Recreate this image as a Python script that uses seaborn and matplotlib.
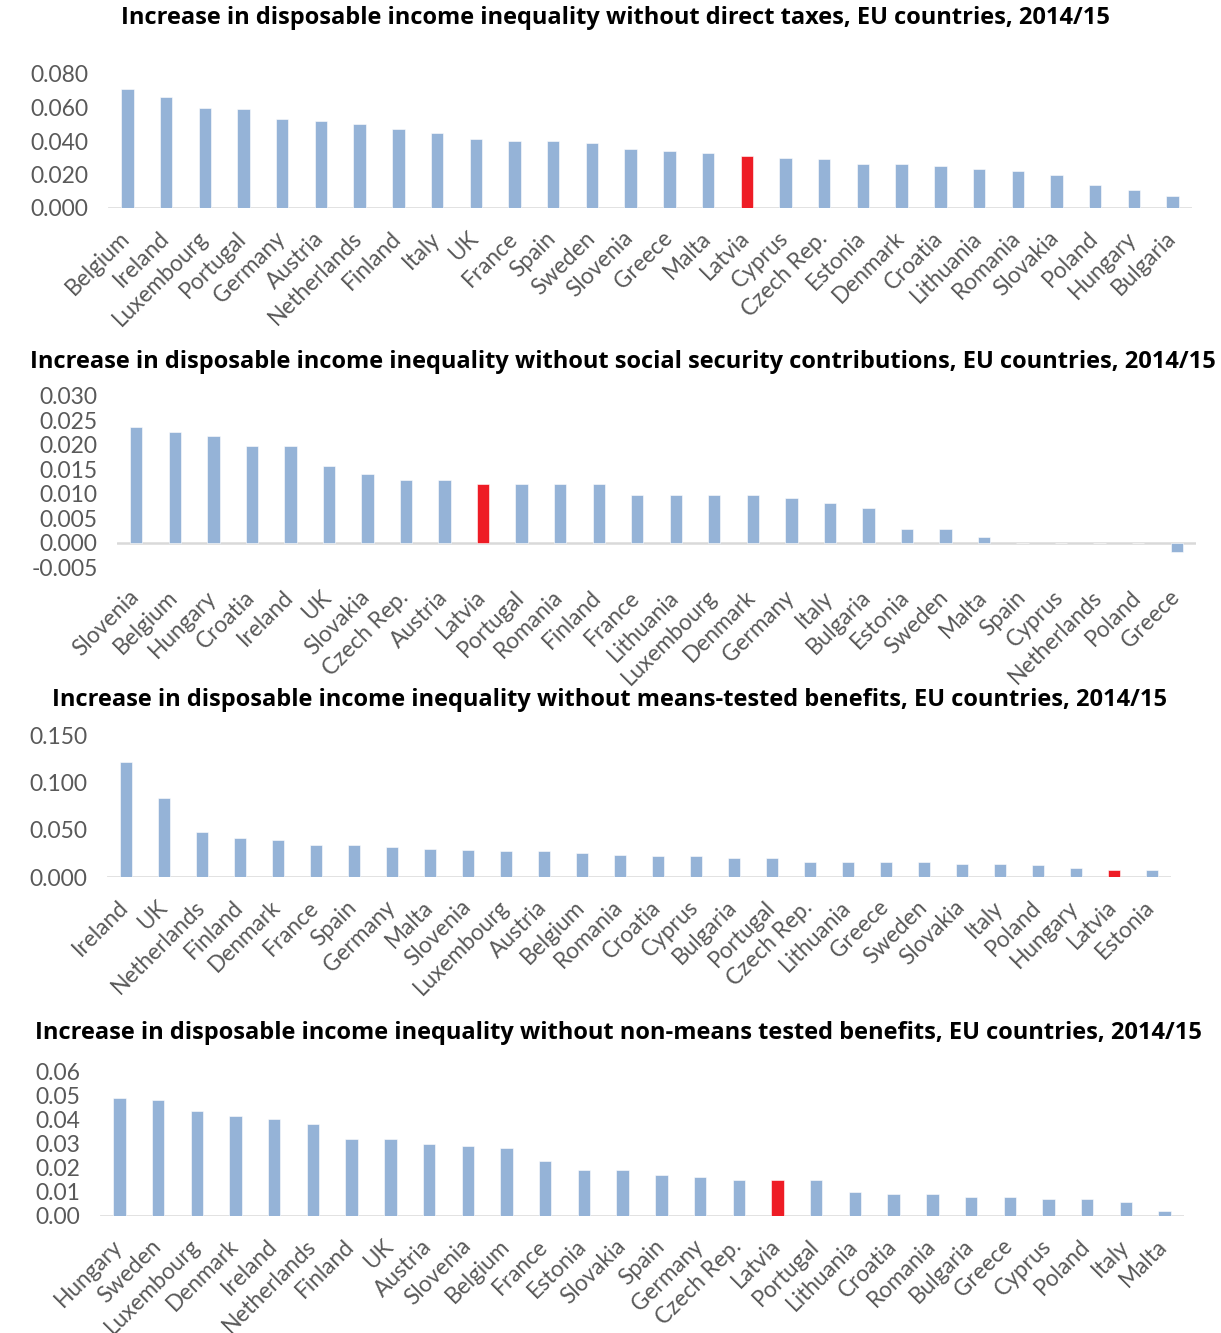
import matplotlib
matplotlib.use("Agg")
import matplotlib.pyplot as plt
import matplotlib.transforms as mtrans
import seaborn as sns
from matplotlib.ticker import FormatStrFormatter

# Panel 1: without direct taxes
countries_tax = ["Belgium", "Ireland", "Luxembourg", "Portugal", "Germany", "Austria", "Netherlands",
                 "Finland", "Italy", "UK", "France", "Spain", "Sweden", "Slovenia", "Greece", "Malta",
                 "Latvia", "Cyprus", "Czech Rep.", "Estonia", "Denmark", "Croatia", "Lithuania",
                 "Romania", "Slovakia", "Poland", "Hungary", "Bulgaria"]
values_tax = [0.071, 0.066, 0.060, 0.059, 0.053, 0.052, 0.050, 0.047, 0.045, 0.041, 0.040, 0.040,
              0.039, 0.035, 0.034, 0.033, 0.031, 0.030, 0.029, 0.026, 0.026, 0.025, 0.023, 0.022,
              0.020, 0.014, 0.011, 0.007]

# Panel 2: without social security contributions
countries_ssc = ["Slovenia", "Belgium", "Hungary", "Croatia", "Ireland", "UK", "Slovakia", "Czech Rep.",
                 "Austria", "Latvia", "Portugal", "Romania", "Finland", "France", "Lithuania",
                 "Luxembourg", "Denmark", "Germany", "Italy", "Bulgaria", "Estonia", "Sweden", "Malta",
                 "Spain", "Cyprus", "Netherlands", "Poland", "Greece"]
values_ssc = [0.0237, 0.0227, 0.0218, 0.0198, 0.0198, 0.0157, 0.0140, 0.0129, 0.0129, 0.0119, 0.0119,
              0.0119, 0.0119, 0.0098, 0.0098, 0.0098, 0.0098, 0.0092, 0.0081, 0.0070, 0.0028, 0.0028,
              0.0011, 0.0, 0.0, 0.0, 0.0, -0.0019]

# Panel 3: without means-tested benefits
countries_mt = ["Ireland", "UK", "Netherlands", "Finland", "Denmark", "France", "Spain", "Germany",
                "Malta", "Slovenia", "Luxembourg", "Austria", "Belgium", "Romania", "Croatia", "Cyprus",
                "Bulgaria", "Portugal", "Czech Rep.", "Lithuania", "Greece", "Sweden", "Slovakia",
                "Italy", "Poland", "Hungary", "Latvia", "Estonia"]
values_mt = [0.122, 0.083, 0.048, 0.041, 0.039, 0.034, 0.034, 0.032, 0.030, 0.029, 0.027, 0.027,
             0.025, 0.023, 0.022, 0.022, 0.020, 0.020, 0.016, 0.016, 0.016, 0.016, 0.014, 0.014,
             0.013, 0.009, 0.007, 0.007]

# Panel 4: without non-means tested benefits
countries_nmt = ["Hungary", "Sweden", "Luxembourg", "Denmark", "Ireland", "Netherlands", "Finland", "UK",
                 "Austria", "Slovenia", "Belgium", "France", "Estonia", "Slovakia", "Spain", "Germany",
                 "Czech Rep.", "Latvia", "Portugal", "Lithuania", "Croatia", "Romania", "Bulgaria",
                 "Greece", "Cyprus", "Poland", "Italy", "Malta"]
values_nmt = [0.0488, 0.0481, 0.0433, 0.0412, 0.0403, 0.0382, 0.0320, 0.0320, 0.0297, 0.0290, 0.0283,
              0.0226, 0.0191, 0.0191, 0.0170, 0.0163, 0.0148, 0.0148, 0.0148, 0.0099, 0.0092, 0.0092,
              0.0078, 0.0078, 0.0071, 0.0071, 0.0056, 0.0021]

titles = [
    "Increase in disposable income inequality without direct taxes, EU countries, 2014/15",
    "Increase in disposable income inequality without social security contributions, EU countries, 2014/15",
    "Increase in disposable income inequality without means-tested benefits, EU countries, 2014/15",
    "Increase in disposable income inequality without non-means tested benefits, EU countries, 2014/15",
]

BLUE = "#95B3D7"
RED = "#EE1C25"
GREY_TXT = "#595959"
highlight = "Latvia"

sns.set_style("white")
plt.rcParams["font.family"] = ["Lato", "DejaVu Sans"]

W, H = 1221, 1333
fig = plt.figure(figsize=(W / 100, H / 100), dpi=100)

def px_axes(left, right, top, bottom):
    return fig.add_axes([left / W, 1 - bottom / H, (right - left) / W, (bottom - top) / H])

# data, axes box in px (left, right, top, bottom), ylim, yticks, fmt, title centre
panels = [
    (countries_tax, values_tax, (108, 1192, 74, 208), (0, 0.08), [0, 0.02, 0.04, 0.06, 0.08], "%.3f", 615, 18),
    (countries_ssc, values_ssc, (117, 1196, 396, 567), (-0.005, 0.03),
     [-0.005, 0, 0.005, 0.01, 0.015, 0.02, 0.025, 0.03], "%.3f", 623, 362),
    (countries_mt, values_mt, (107, 1171, 735, 877), (0, 0.15), [0, 0.05, 0.1, 0.15], "%.3f", 609, 700),
    (countries_nmt, values_nmt, (100, 1184, 1071, 1216), (0, 0.06),
     [0, 0.01, 0.02, 0.03, 0.04, 0.05, 0.06], "%.2f", 618, 1033),
]

shift = mtrans.ScaledTranslation(-8 / 100, 0, fig.dpi_scale_trans)

for i, (cats, vals, box, ylim, yticks, fmt, tx, ty) in enumerate(panels):
    ax = px_axes(*box)
    cols = {c: (RED if c == highlight else BLUE) for c in cats}
    sns.barplot(x=cats, y=vals, hue=cats, palette=cols, order=cats, width=0.32, saturation=1,
                legend=False, ax=ax, edgecolor="white", linewidth=0.4)
    ax.set_ylim(*ylim)
    ax.set_yticks(yticks)
    ax.yaxis.set_major_formatter(FormatStrFormatter(fmt))
    ax.set_xlim(-0.5, len(cats) - 0.5)
    ax.axhline(0, color="#D9D9D9", lw=1.8, zorder=0)
    for s in ax.spines.values():
        s.set_visible(False)
    ax.tick_params(axis="y", length=0, labelsize=16.5, labelcolor=GREY_TXT, pad=14)
    ax.tick_params(axis="x", length=0, labelsize=16.3, labelcolor=GREY_TXT, pad=14)
    ax.set_xticks(range(len(cats)))
    ax.set_xticklabels(cats, rotation=45, ha="right", rotation_mode="anchor")
    for lab in ax.get_xticklabels():
        lab.set_transform(lab.get_transform() + shift)
    ax.set_xlabel("")
    ax.set_ylabel("")
    ax.grid(False)
    fig.text(tx / W, 1 - ty / H, titles[i], ha="center", va="center", fontsize=17,
             fontweight="bold", family=["Open Sans", "DejaVu Sans"], color="black")

fig.savefig("out.png", dpi=100)
